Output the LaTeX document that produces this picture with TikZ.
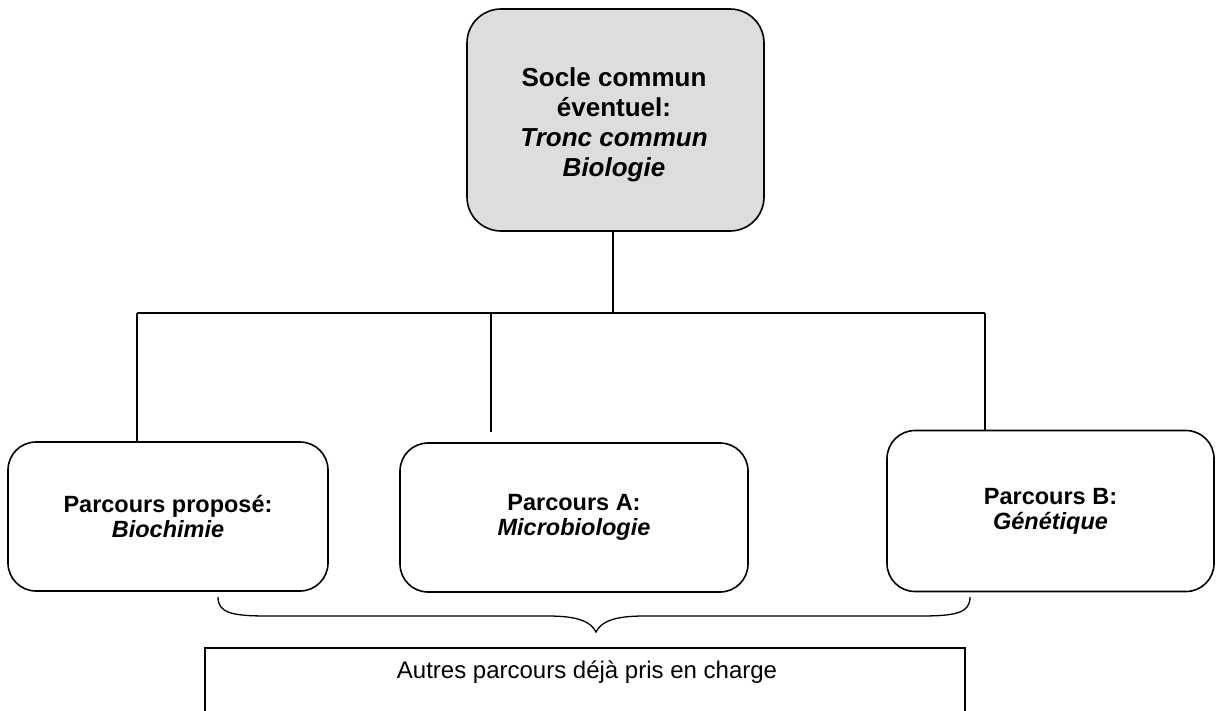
\documentclass[tikz,border=0pt]{standalone}
\usepackage{fontspec}
\setmainfont{Liberation Sans}
\begin{document}
\begin{tikzpicture}[x=1pt,y=-1pt,
  topbox/.style={draw=black,line width=1.6pt,fill=boxgray,rounded corners=34pt,
    minimum width=297pt,minimum height=222pt,inner sep=0pt,align=center,
    font=\fontsize{26}{30}\selectfont\bfseries},
  pathbox/.style={draw=black,line width=1.6pt,rounded corners=28pt,
    inner sep=0pt,align=center,font=\fontsize{23.5}{25}\selectfont\bfseries},
  conn/.style={draw=black,line width=1.6pt},
  bracestyle/.style={draw=black,line width=1.3pt},
  otherbox/.style={draw=black,line width=1.6pt,inner sep=0pt,
    minimum width=760pt,minimum height=120pt,anchor=north}
]
\definecolor{boxgray}{HTML}{DDDDDD}
\useasboundingbox (0,0) rectangle (1216,710);
\clip (0,0) rectangle (1216,710);
\fill[white] (0,0) rectangle (1216,710);

\node[topbox] (top) at (615.5,120) {};
\node[align=center,inner sep=0pt,font=\fontsize{26}{30}\selectfont\bfseries] (toptext) at (614,125)
  {Socle commun\\éventuel:\\\textit{Tronc commun}\\\textit{Biologie}};

\node[pathbox,minimum width=320pt,minimum height=149pt] (b1) at (168,516.5)
  {Parcours proposé:\\\textit{Biochimie}};
\node[pathbox,minimum width=348pt,minimum height=149pt] (b2) at (574,517.5)
  {Parcours A:\\\textit{Microbiologie}};
\node[pathbox,minimum width=327pt,minimum height=161pt] (b3) at (1050.5,511)
  {Parcours B:\\\textit{Génétique}};

\coordinate (j) at (613,313);
\coordinate (hl) at (137,313);
\coordinate (hm) at (491,313);
\coordinate (hr) at (985,313);
\coordinate (hmend) at (491,432);

\draw[conn] (top.south -| j) -- (j);
\draw[conn] (hl) -- (hr);
\draw[conn] (hl) -- (b1.north -| hl);
\draw[conn] (hm) -- (hmend);
\draw[conn] (hr) -- (b3.north -| hr);

\coordinate (brl) at (218,597);
\coordinate (brr) at (970,597);
\coordinate (brt) at (596,632);
\draw[bracestyle] (brl) .. controls (218,613) and (232,616) .. (268,616)
  -- (548,616) .. controls (579,616) and (591,622) .. (brt)
  .. controls (601,622) and (613,616) .. (644,616)
  -- (920,616) .. controls (956,616) and (970,613) .. (brr);

\node[otherbox] (other) at (585,647) {};
\node[font=\fontsize{24}{26}\selectfont,inner sep=0pt] (othertext) at (587,672) {Autres parcours déjà pris en charge};
\end{tikzpicture}
\end{document}
